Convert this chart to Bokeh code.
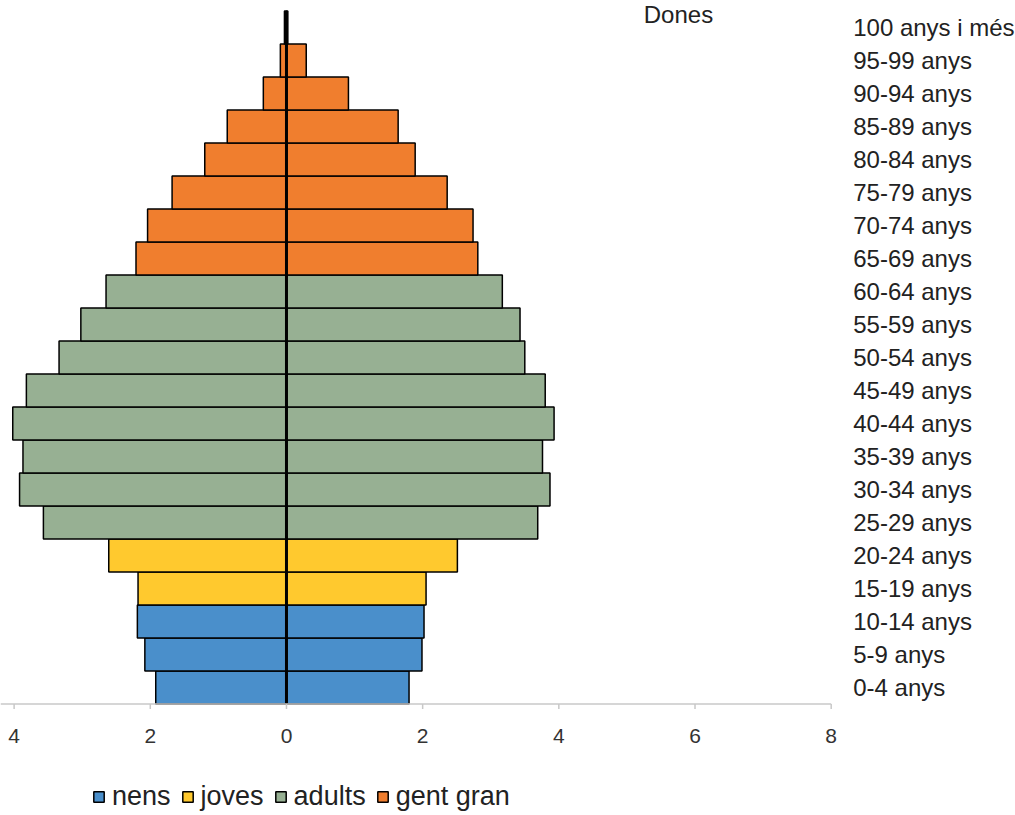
from bokeh.plotting import figure
from bokeh.models import Range1d, Legend, LegendItem, Label, ColumnDataSource
from bokeh.core.properties import value
from bokeh.embed import file_html
from bokeh.resources import INLINE

# ---- data ----
categories = ["0-4 anys", "5-9 anys", "10-14 anys", "15-19 anys", "20-24 anys",
              "25-29 anys", "30-34 anys", "35-39 anys", "40-44 anys", "45-49 anys",
              "50-54 anys", "55-59 anys", "60-64 anys", "65-69 anys", "70-74 anys",
              "75-79 anys", "80-84 anys", "85-89 anys", "90-94 anys", "95-99 anys",
              "100 anys i més"]
left_side = [1.92, 2.08, 2.19, 2.18, 2.61, 3.57, 3.92, 3.87, 4.02, 3.82, 3.34,
             3.02, 2.65, 2.21, 2.04, 1.68, 1.20, 0.87, 0.34, 0.09, 0.03]
right_side = [1.80, 1.99, 2.02, 2.05, 2.51, 3.69, 3.87, 3.76, 3.93, 3.80, 3.50,
              3.43, 3.17, 2.81, 2.74, 2.36, 1.89, 1.64, 0.91, 0.29, 0.02]
group_names = ["nens", "joves", "adults", "gent gran"]
group_sizes = [3, 2, 8, 8]
group_colors = ["#4A8FCB", "#FFC92E", "#97B093", "#F07E2E"]
tick_values = [-4, -2, 0, 2, 4, 6, 8]
tick_labels = ["4", "2", "0", "2", "4", "6", "8"]
title_text = "Dones"

FONT = "Liberation Sans"
n = len(categories)

# ---- layout constants (pixels) ----
W, H = 1015, 815
PXX = 68.09            # px per x unit
PXY = 33.0             # px per category band
X0 = -4.20             # x value at the left edge
X1 = X0 + W / PXX
Y1 = (n - 0.5) + 10.5 / PXY   # value at the top edge
Y0 = Y1 - H / PXY
X_AXIS_END = tick_values[-1]


def ypix(py):
    """data y for a pixel row measured from the top"""
    return Y1 - py / PXY


p = figure(width=W, height=H, x_range=Range1d(X0, X1), y_range=Range1d(Y0, Y1),
           output_backend="svg", toolbar_location=None,
           x_axis_location=None, y_axis_location=None,
           min_border=0)
p.outline_line_color = None
p.grid.visible = False
p.background_fill_color = "white"

# bars
items = []
start = 0
for name, size, color in zip(group_names, group_sizes, group_colors):
    idx = list(range(start, start + size))
    src = ColumnDataSource(dict(
        y=idx,
        l=[-left_side[i] for i in idx],
        r=[right_side[i] for i in idx],
        z=[0] * size,
    ))
    r1 = p.hbar(y="y", left="l", right="z", height=1.0, source=src,
                fill_color=color, line_color="black", line_width=1.5)
    p.hbar(y="y", left="z", right="r", height=1.0, source=src,
           fill_color=color, line_color="black", line_width=1.5)
    items.append(LegendItem(label=name, renderers=[r1]))
    start += size

# central zero line over the category bands
p.segment(x0=[0], y0=[-0.5], x1=[0], y1=[n - 0.5], line_color="black",
          line_width=3)

# x axis: line, ticks, labels
base = -0.5
p.segment(x0=[X0], y0=[base], x1=[X_AXIS_END], y1=[base],
          line_color="#c8c8c8", line_width=1.5)
p.segment(x0=tick_values, y0=[base] * len(tick_values),
          x1=tick_values, y1=[base - 5 / PXY] * len(tick_values),
          line_color="#c8c8c8", line_width=1.5)
p.text(x=tick_values, y=[ypix(735)] * len(tick_values), text=tick_labels,
       text_align="center", text_baseline="middle",
       text_font=value(FONT), text_font_size=value("21px"),
       text_color="#333333")

# category labels on the right
p.text(x=[X_AXIS_END + 22 / PXX] * n, y=list(range(n)), text=categories,
       text_align="left", text_baseline="middle",
       text_font=value(FONT), text_font_size=value("24px"),
       text_color="#222222")

# title at the top edge
p.add_layout(Label(x=5.757, y=Y1, text=title_text, text_align="center",
                   text_baseline="top", text_font=FONT,
                   text_font_size="24px", text_color="#222222"))

legend = Legend(items=items, orientation="horizontal", location=(92, 3),
                label_text_font=FONT, label_text_font_size="27px",
                label_text_color="#222222",
                glyph_width=13, glyph_height=13, label_standoff=7, spacing=10,
                padding=0, margin=0, border_line_color=None,
                background_fill_alpha=0)
p.add_layout(legend, "center")

open("out.html", "w").write(file_html(p, INLINE))
